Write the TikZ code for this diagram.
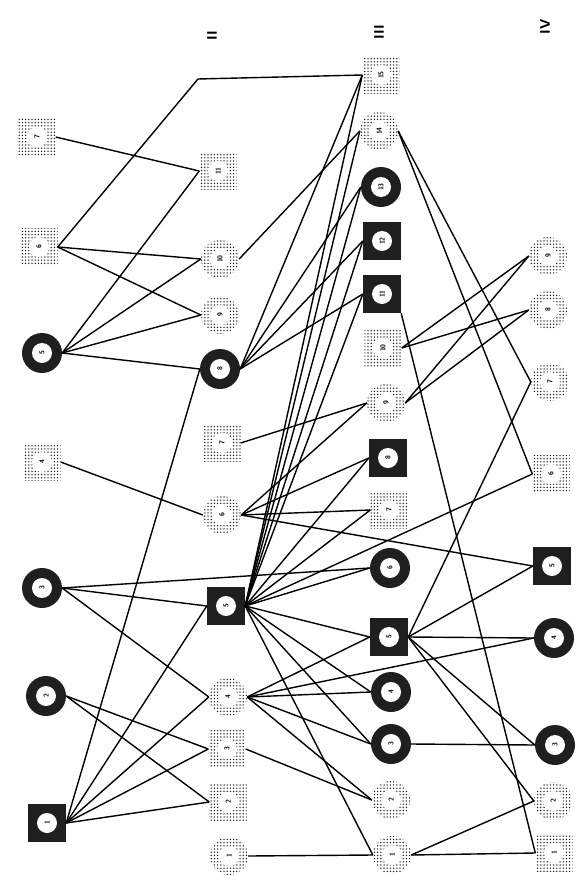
\documentclass[tikz,border=0pt]{standalone}
\usepackage{graphicx}
\usetikzlibrary{patterns,positioning}
\newcommand{\vnum}[1]{\rotatebox{90}{#1}}
\pgfdeclarepatternformonly{fatdots}{\pgfqpoint{-1pt}{-1pt}}{\pgfqpoint{1pt}{1pt}}{\pgfqpoint{3.2pt}{3.2pt}}{%
  \pgfpathcircle{\pgfqpoint{0pt}{0pt}}{0.75pt}\pgfusepath{fill}}

\begin{document}
\begin{tikzpicture}[x=1pt,y=-1pt,
    every node/.style={inner sep=0pt, font=\sffamily\bfseries\fontsize{7}{8}\selectfont},
    hole/.style={path picture={\fill[white] (path picture bounding box.center) circle (10pt);}},
    lightbox/.style={rectangle, minimum size=37pt, pattern=fatdots, pattern color=black!90, hole},
    lightring/.style={circle, minimum size=38pt, pattern=fatdots, pattern color=black!90, hole},
    darkbox/.style={rectangle, minimum size=38pt, fill=black!88, hole},
    darkring/.style={circle, minimum size=40pt, fill=black!88, hole},
    colhead/.style={font=\sffamily\bfseries\fontsize{14}{14}\selectfont},
    link/.style={line width=1.4pt}]
    \fill[white] (0,0) rectangle (581,881);
    \useasboundingbox (0,0) rectangle (581,881);

    % Column headings
    \node[colhead] (hII) at (212,36) {\vnum{II}};
    \node[colhead] (hIII) at (379,32) {\vnum{III}};
    \node[colhead] (hIV) at (545,27) {\vnum{IV}};

    % Column I
    \node[lightbox] (I7) at (37,137) {\vnum{7}};
    \node[lightbox] (I6) at (39,247) {\vnum{6}};
    \node[darkring] (I5) at (42,353) {\vnum{5}};
    \node[lightbox] (I4) at (42,462) {\vnum{4}};
    \node[darkring] (I3) at (42,588) {\vnum{3}};
    \node[darkring] (I2) at (46,696) {\vnum{2}};
    \node[darkbox]  (I1) at (47,823) {\vnum{1}};

    % Column II
    \node[lightbox]  (II11) at (218,171) {\vnum{11}};
    \node[lightring] (II10) at (220,259) {\vnum{10}};
    \node[lightring] (II9)  at (220,315) {\vnum{9}};
    \node[darkring]  (II8)  at (220,369) {\vnum{8}};
    \node[lightbox]  (II7)  at (222,443) {\vnum{7}};
    \node[lightring] (II6)  at (222,515) {\vnum{6}};
    \node[darkbox]   (II5)  at (226,606) {\vnum{5}};
    \node[lightring] (II4)  at (228,697) {\vnum{4}};
    \node[lightbox]  (II3)  at (227,749) {\vnum{3}};
    \node[lightbox]  (II2)  at (228,802) {\vnum{2}};
    \node[lightring] (II1)  at (229,856) {\vnum{1}};

    % Column III
    \node[lightbox]  (III15) at (381,75)  {\vnum{15}};
    \node[lightring] (III14) at (379,131) {\vnum{14}};
    \node[darkring]  (III13) at (381,187) {\vnum{13}};
    \node[darkbox]   (III12) at (382,241) {\vnum{12}};
    \node[darkbox]   (III11) at (382,294) {\vnum{11}};
    \node[lightbox]  (III10) at (383,348) {\vnum{10}};
    \node[lightring] (III9)  at (386,403) {\vnum{9}};
    \node[darkbox]   (III8)  at (388,458) {\vnum{8}};
    \node[lightbox]  (III7)  at (389,510) {\vnum{7}};
    \node[darkring]  (III6)  at (390,568) {\vnum{6}};
    \node[darkbox]   (III5)  at (389,637) {\vnum{5}};
    \node[darkring]  (III4)  at (391,692) {\vnum{4}};
    \node[darkring]  (III3)  at (391,744) {\vnum{3}};
    \node[lightring] (III2)  at (391,800) {\vnum{2}};
    \node[lightring] (III1)  at (392,855) {\vnum{1}};

    % Column IV
    \node[lightring] (IV9) at (548,256) {\vnum{9}};
    \node[lightring] (IV8) at (548,310) {\vnum{8}};
    \node[lightring] (IV7) at (550,382) {\vnum{7}};
    \node[lightbox]  (IV6) at (551,474) {\vnum{6}};
    \node[darkbox]   (IV5) at (552,566) {\vnum{5}};
    \node[darkring]  (IV4) at (554,638) {\vnum{4}};
    \node[darkring]  (IV3) at (555,745) {\vnum{3}};
    \node[lightring] (IV2) at (553,801) {\vnum{2}};
    \node[lightbox]  (IV1) at (554,853) {\vnum{1}};

    % I -> II (and the bent line to III15)
    \coordinate (knee) at (198,79);
    \draw[link] (I6.east) -- (knee) -- (III15.west);
    \draw[link] (I7.east) -- (II11.west);
    \foreach \t in {II10,II9} \draw[link] (I6.east) -- (\t.west);
    \foreach \t in {II11,II10,II9,II8} \draw[link] (I5.east) -- (\t.west);
    \draw[link] (I4.east) -- (II6.west);
    \foreach \t in {II5,II4} \draw[link] (I3.east) -- (\t.west);
    \draw[link] (I3.east) -- (III6.west);
    \foreach \t in {II3,II2} \draw[link] (I2.east) -- (\t.west);
    \foreach \t in {II8,II5,II4,II3,II2} \draw[link] (I1.east) -- (\t.west);

    % II -> III
    \draw[link] (II10.east) -- (III14.west);
    \foreach \t in {III15,III13,III12,III11} \draw[link] (II8.east) -- (\t.west);
    \draw[link] (II7.east) -- (III9.west);
    \foreach \t in {III9,III8,III7,IV5} \draw[link] (II6.east) -- (\t.west);
    \foreach \t in {III15,III14,III13,III12,III11,III8,III7,III6,IV6,III5,III4,III3,III1}
        \draw[link] (II5.east) -- (\t.west);
    \foreach \t in {III5,IV4,III4,III3,III2} \draw[link] (II4.east) -- (\t.west);
    \draw[link] (II3.east) -- (III2.west);
    \draw[link] (II1.east) -- (III1.west);

    % III -> IV
    \foreach \t in {IV7,IV6} \draw[link] (III14.east) -- (\t.west);
    \draw[link] (III11.south east) -- (IV1.west);
    \foreach \s in {III10,III9} {
        \draw[link] (\s.east) -- (IV9.west);
        \draw[link] (\s.east) -- (IV8.west);
    }
    \foreach \t in {IV7,IV5,IV4,IV3,IV2} \draw[link] (III5.east) -- (\t.west);
    \draw[link] (III3.east) -- (IV3.west);
    \foreach \t in {IV2,IV1} \draw[link] (III1.east) -- (\t.west);
\end{tikzpicture}
\end{document}
